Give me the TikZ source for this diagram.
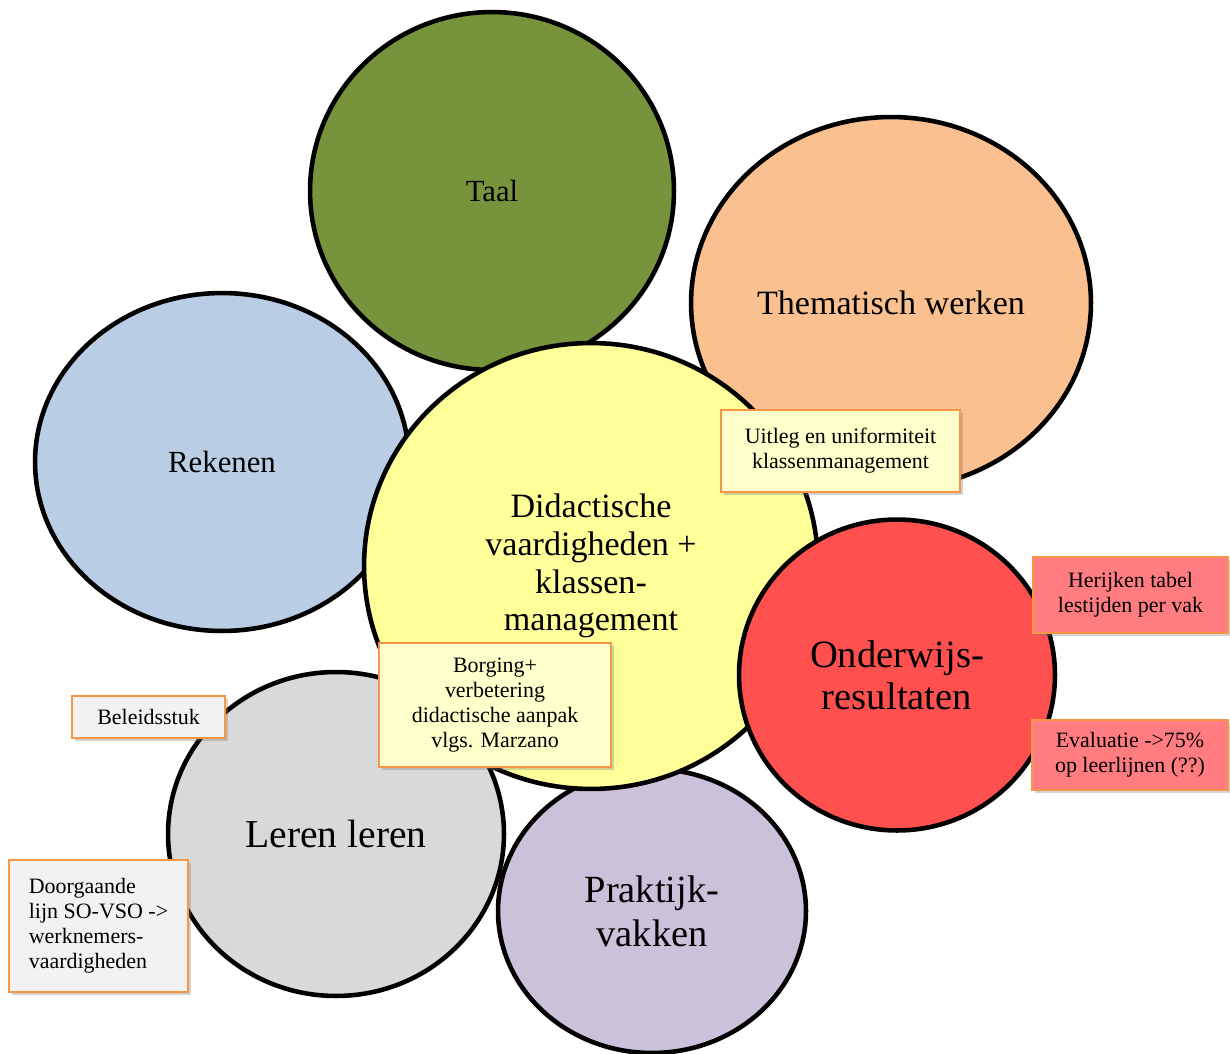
\documentclass[tikz,border=0pt]{standalone}
\usepackage{fontspec}
\setmainfont{Liberation Serif}
\usetikzlibrary{shapes.geometric,shadows}

\definecolor{taalgroen}{HTML}{77933C}
\definecolor{themaoranje}{HTML}{FAC090}
\definecolor{rekenblauw}{HTML}{B9CDE5}
\definecolor{didacgeel}{HTML}{FFFF99}
\definecolor{onderwrood}{HTML}{FF5050}
\definecolor{lerengrijs}{HTML}{D9D9D9}
\definecolor{praktpaars}{HTML}{CCC1DA}
\definecolor{notageel}{HTML}{FFFFCC}
\definecolor{notarood}{HTML}{FF7C80}
\definecolor{notagrijs}{HTML}{F2F2F2}
\definecolor{notarand}{HTML}{F79646}

\tikzset{
  blob/.style={ellipse, draw=black, line width=2.6pt, inner sep=0pt, align=center},
  noot/.style={rectangle, draw=notarand, line width=1.1pt, align=center, inner sep=2pt,
    drop shadow={shadow xshift=1.5pt, shadow yshift=-1.5pt, opacity=0.35},
    font=\fontsize{12.5}{14.2}\selectfont},
}

\begin{document}
\begin{tikzpicture}[x=0.02cm, y=-0.02cm]
    \useasboundingbox (0,0) rectangle (1230,1054);

    \node[blob, fill=taalgroen, minimum width=7.28cm, minimum height=7.16cm,
      font=\fontsize{17.5}{21}\selectfont] (taal) at (492,191) {Taal};
    \node[blob, fill=themaoranje, minimum width=8.0cm, minimum height=7.44cm,
      font=\fontsize{19.4}{23}\selectfont] (thema) at (891,303) {Thematisch werken};
    \node[blob, fill=rekenblauw, minimum width=7.48cm, minimum height=6.76cm,
      font=\fontsize{17.5}{21}\selectfont] (reken) at (222,462) {Rekenen};
    \node[blob, fill=lerengrijs, minimum width=6.72cm, minimum height=6.48cm,
      font=\fontsize{22.5}{25}\selectfont] (leren) at (336,834) {Leren leren};
    \node[blob, fill=praktpaars, minimum width=6.16cm, minimum height=5.68cm,
      font=\fontsize{21.9}{25}\selectfont] (prakt) at (652,911) {Praktijk-\\vakken};
    \node[blob, fill=didacgeel, minimum width=9.08cm, minimum height=8.92cm,
      font=\fontsize{19.4}{21.5}\selectfont] (didac) at (591,566)
      {Didactische\\vaardigheden +\\klassen-\\management};
    \node[blob, fill=onderwrood, minimum width=6.32cm, minimum height=6.22cm,
      font=\fontsize{22}{23.8}\selectfont] (onderw) at (897,675) {Onderwijs-\\resultaten};

    \node[noot, fill=notageel, minimum width=4.78cm, minimum height=1.64cm]
      (uitleg) at (840.5,451) {Uitleg en uniformiteit\\klassenmanagement};
    \node[noot, fill=notageel, minimum width=4.64cm, minimum height=2.48cm]
      (borging) at (495,705) {Borging+\\verbetering\\didactische aanpak\\vlgs. Marzano};
    \node[noot, fill=notagrijs, minimum width=3.06cm, minimum height=0.84cm]
      (beleid) at (148.5,717) {Beleidsstuk};
    \node[noot, fill=notagrijs, minimum width=3.58cm, minimum height=2.64cm, align=left]
      (doorg) at (98.5,926) {Doorgaande\\lijn SO-VSO ->\\werknemers-\\vaardigheden};
    \node[noot, fill=notarood, minimum width=3.9cm, minimum height=1.52cm]
      (herijk) at (1130.5,595) {Herijken tabel\\lestijden per vak};
    \node[noot, fill=notarood, minimum width=3.92cm, minimum height=1.4cm]
      (evalu) at (1130,755) {Evaluatie ->75\%\\op leerlijnen (??)};
\end{tikzpicture}
\end{document}
